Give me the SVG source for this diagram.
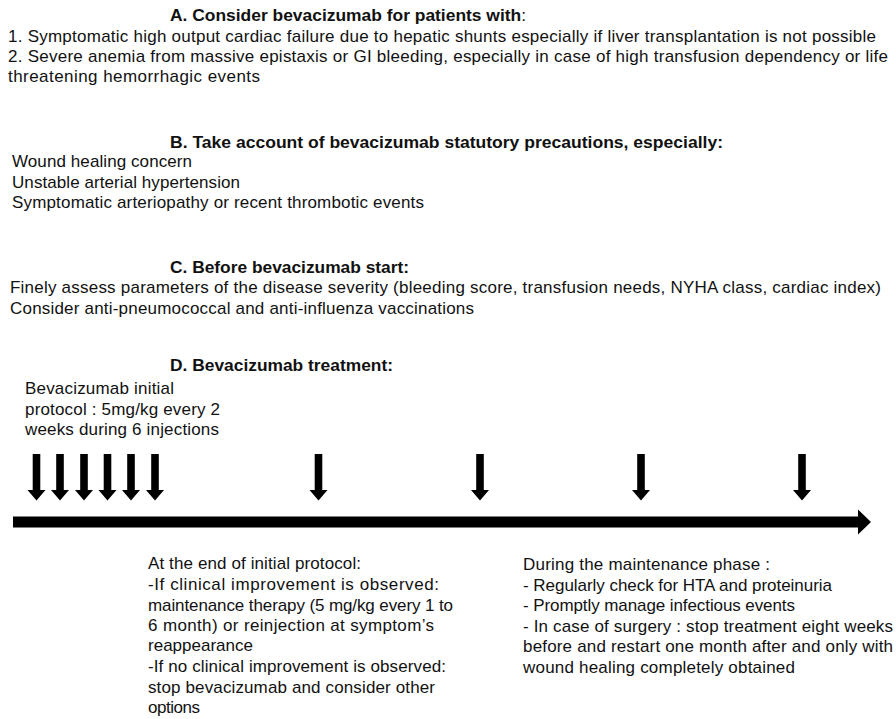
<svg xmlns="http://www.w3.org/2000/svg" width="896" height="719" viewBox="0 0 896 719">
<style>
text{font-family:"Liberation Sans",Arial,sans-serif;font-size:17px;fill:#111;}
.t{font-weight:bold;}
.r{font-weight:normal;}
.arr{fill:#000;}
</style>
<defs>
<polygon id="dn" class="arr" points="-3.8,0 3.8,0 3.8,36 9,36 0,46.5 -9,36 -3.8,36"/>
</defs>
<rect width="896" height="719" fill="#fff"/>
<g id="sectionA">
<text class="t" x="170" y="21" textLength="356" lengthAdjust="spacingAndGlyphs">A. Consider bevacizumab for patients with<tspan class="r">:</tspan></text>
<text x="8" y="42" textLength="868" lengthAdjust="spacing">1. Symptomatic high output  cardiac failure due to hepatic shunts  especially if liver transplantation  is not possible</text>
<text x="8" y="62" textLength="880" lengthAdjust="spacing">2. Severe anemia from massive epistaxis or GI  bleeding, especially in case of high transfusion  dependency or life</text>
<text x="8" y="82" textLength="252" lengthAdjust="spacing">threatening  hemorrhagic events</text>
</g>
<g id="sectionB">
<text class="t" x="170" y="148" textLength="553" lengthAdjust="spacingAndGlyphs">B. Take account of bevacizumab statutory precautions, especially:</text>
<text x="12" y="167" textLength="180" lengthAdjust="spacing">Wound healing concern</text>
<text x="12" y="188" textLength="228" lengthAdjust="spacing">Unstable arterial hypertension</text>
<text x="12" y="208" textLength="412" lengthAdjust="spacing">Symptomatic arteriopathy or recent thrombotic events</text>
</g>
<g id="sectionC">
<text class="t" x="170" y="273" textLength="239" lengthAdjust="spacingAndGlyphs">C. Before bevacizumab start:</text>
<text x="10" y="293" textLength="871" lengthAdjust="spacing">Finely assess parameters of the disease severity (bleeding score, transfusion  needs, NYHA class,  cardiac index)</text>
<text x="10" y="314" textLength="464" lengthAdjust="spacing">Consider anti-pneumococcal and anti-influenza  vaccinations</text>
</g>
<g id="sectionD">
<text class="t" x="170" y="371" textLength="223" lengthAdjust="spacingAndGlyphs">D. Bevacizumab treatment:</text>
<text x="25" y="394" textLength="149" lengthAdjust="spacing">Bevacizumab  initial</text>
<text x="25" y="415" textLength="195" lengthAdjust="spacing">protocol : 5mg/kg every 2</text>
<text x="25" y="435" textLength="194" lengthAdjust="spacing">weeks during 6 injections</text>
</g>
<g id="timeline">
<use href="#dn" x="36.5" y="454"/>
<use href="#dn" x="60" y="454"/>
<use href="#dn" x="84" y="454"/>
<use href="#dn" x="107.5" y="454"/>
<use href="#dn" x="131" y="454"/>
<use href="#dn" x="155" y="454"/>
<use href="#dn" x="318.5" y="454"/>
<use href="#dn" x="480" y="454"/>
<use href="#dn" x="641" y="454"/>
<use href="#dn" x="802" y="454"/>
<polygon class="arr" points="13,516.5 858,516.5 858,509.5 871,522 858,534.5 858,527.5 13,527.5"/>
</g>
<g id="initialProtocolNote">
<text x="148" y="569" textLength="213" lengthAdjust="spacing">At the end of initial protocol:</text>
<text x="148" y="590" textLength="291" lengthAdjust="spacing">-If clinical improvement is observed:</text>
<text x="148" y="611" textLength="305" lengthAdjust="spacing">maintenance  therapy (5 mg/kg every 1 to</text>
<text x="148" y="631" textLength="286" lengthAdjust="spacing">6 month)  or reinjection at symptom’s</text>
<text x="148" y="651" textLength="105" lengthAdjust="spacing">reappearance</text>
<text x="148" y="672" textLength="298" lengthAdjust="spacing">-If no clinical improvement is observed:</text>
<text x="148" y="693" textLength="287" lengthAdjust="spacing">stop bevacizumab and consider other</text>
<text x="148" y="713" textLength="52" lengthAdjust="spacing">options</text>
</g>
<g id="maintenanceNote">
<text x="523" y="570" textLength="247" lengthAdjust="spacing">During the maintenance  phase :</text>
<text x="523" y="591" textLength="309" lengthAdjust="spacing">- Regularly check for HTA and proteinuria</text>
<text x="523" y="611" textLength="272" lengthAdjust="spacing">- Promptly  manage infectious events</text>
<text x="523" y="632" textLength="370" lengthAdjust="spacing">- In  case of surgery  : stop treatment  eight weeks</text>
<text x="523" y="652" textLength="370" lengthAdjust="spacing">before and restart one month after and only with</text>
<text x="523" y="673" textLength="272" lengthAdjust="spacing">wound healing completely obtained</text>
</g>
</svg>
